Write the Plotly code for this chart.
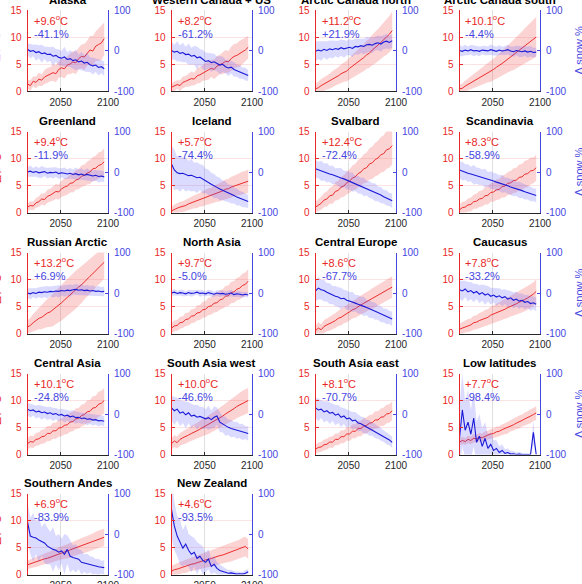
import plotly.graph_objects as go

W, H = 582, 584

years = list(range(2015, 2097, 3))  # 28 sample years

regions = ["Alaska", "Western Canada + US", "Arctic Canada north", "Arctic Canada south",
           "Greenland", "Iceland", "Svalbard", "Scandinavia",
           "Russian Arctic", "North Asia", "Central Europe", "Caucasus",
           "Central Asia", "South Asia west", "South Asia east", "Low latitudes",
           "Southern Andes", "New Zealand"]

temp_labels = ["+9.6", "+8.2", "+11.2", "+10.1", "+9.4", "+5.7", "+12.4", "+8.3",
               "+13.2", "+9.7", "+8.6", "+7.8", "+10.1", "+10.0", "+8.1", "+7.7",
               "+6.9", "+4.6"]
snow_labels = ["-41.1%", "-61.2%", "+21.9%", "-4.4%", "-11.9%", "-74.4%", "-72.4%", "-58.9%",
               "+6.9%", "-5.0%", "-67.7%", "-33.2%", "-24.8%", "-46.6%", "-70.7%", "-98.4%",
               "-83.9%", "-93.5%"]

# temperature change (deg C), one row per region
temp_mean = [
    [1.3,1.0,1.8,1.6,2.2,2.0,2.6,2.9,3.1,3.4,3.2,4.0,4.3,4.1,4.8,5.0,5.4,5.2,6.0,6.4,6.3,7.0,7.6,7.4,8.3,8.6,8.9,9.7],
    [0.7,0.9,1.2,1.0,1.6,1.8,2.0,2.3,2.2,2.8,3.0,3.3,3.6,3.8,4.2,4.0,4.6,4.9,5.1,5.5,5.4,6.0,6.4,6.6,6.9,7.3,7.6,8.1],
    [0.4,0.6,1.0,1.3,1.6,1.8,2.2,2.5,2.8,3.2,3.5,3.7,4.2,4.6,4.9,5.4,5.8,6.2,6.7,7.0,7.6,8.0,8.5,9.0,9.6,10.0,10.5,11.2],
    [0.4,0.5,0.9,1.2,1.5,1.8,2.1,2.5,2.8,3.1,3.4,3.6,4.0,4.4,4.7,5.1,5.5,5.9,6.3,6.7,7.1,7.5,7.9,8.3,8.8,9.2,9.6,10.0],
    [1.0,1.3,1.2,1.8,2.0,2.5,2.4,3.0,3.2,3.5,3.9,3.8,4.4,4.7,4.9,5.4,5.5,6.0,6.2,6.7,6.9,7.3,7.5,8.1,8.2,8.7,8.9,9.4],
    [0.3,0.6,0.8,1.0,1.1,1.3,1.6,1.8,2.0,2.1,2.4,2.5,2.8,3.0,3.1,3.4,3.6,3.8,4.0,4.3,4.4,4.7,4.9,5.1,5.3,5.5,5.6,5.8],
    [1.0,1.4,1.7,2.3,2.5,3.1,3.2,3.9,4.1,4.7,4.9,5.5,5.8,6.4,6.6,7.2,7.5,8.1,8.3,9.0,9.2,9.8,10.1,10.7,10.9,11.6,11.8,12.4],
    [0.5,0.9,1.0,1.4,1.5,2.0,2.1,2.5,2.6,3.1,3.2,3.7,3.8,4.2,4.3,4.8,4.9,5.4,5.5,5.9,6.0,6.5,6.6,7.1,7.2,7.7,7.8,8.3],
    [1.2,1.5,2.0,2.4,2.8,3.0,3.4,3.8,4.0,4.4,4.8,5.3,5.7,6.2,6.7,7.2,7.6,8.1,8.6,9.0,9.6,10.1,10.6,11.1,11.6,12.1,12.6,13.2],
    [1.0,1.4,1.5,2.0,2.1,2.6,2.7,3.2,3.3,3.8,3.9,4.4,4.5,5.0,5.1,5.6,5.7,6.2,6.4,6.9,7.0,7.6,7.7,8.2,8.4,8.9,9.1,9.7],
    [0.5,1.0,0.7,1.3,1.6,1.8,2.1,2.4,2.8,3.0,3.4,3.7,4.0,4.4,4.6,5.0,5.3,5.6,5.9,6.2,6.5,6.8,7.1,7.4,7.7,8.0,8.3,8.6],
    [0.8,1.0,1.3,1.5,1.6,2.0,2.1,2.4,2.6,2.9,3.0,3.4,3.6,3.8,4.1,4.3,4.5,4.8,5.0,5.3,5.5,5.8,6.0,6.3,6.6,6.9,7.3,7.8],
    [2.0,2.4,2.3,2.8,2.9,3.3,3.4,3.9,3.9,4.4,4.4,4.9,5.0,5.4,5.5,6.0,6.1,6.6,6.7,7.2,7.4,7.9,8.0,8.6,8.7,9.3,9.5,10.0],
    [2.0,2.5,2.2,2.8,3.1,3.3,3.6,3.9,4.1,4.4,4.7,5.0,5.2,5.5,5.8,6.1,6.5,6.8,7.1,7.5,7.8,8.2,8.5,8.9,9.2,9.5,9.8,10.0],
    [1.0,1.3,1.4,1.8,1.9,2.3,2.3,2.8,2.8,3.3,3.3,3.8,3.8,4.3,4.3,4.8,4.8,5.3,5.4,5.8,5.9,6.4,6.4,6.9,7.0,7.5,7.6,8.1],
    [2.3,2.6,2.4,2.8,2.6,3.0,2.9,3.2,3.1,3.4,3.6,3.8,3.9,4.2,4.3,4.6,4.8,5.0,5.3,5.5,5.8,6.0,6.3,6.6,6.8,7.1,7.4,7.7],
    [1.8,2.0,2.2,2.3,2.5,2.7,2.9,3.0,3.2,3.4,3.6,3.8,4.0,4.1,4.3,4.5,4.7,4.9,5.1,5.3,5.5,5.7,5.9,6.1,6.3,6.5,6.7,6.9],
    [0.6,0.9,1.0,1.2,1.4,1.5,1.7,1.9,2.0,2.2,2.3,2.5,2.7,2.8,3.0,3.1,3.3,3.5,3.6,3.8,4.0,4.1,4.3,4.5,4.7,5.0,5.2,4.7],
]

# temperature ensemble half-spread (deg C)
temp_spread = [
    [0.8,1.0,0.9,1.1,1.2,1.1,1.3,1.4,1.3,1.5,1.6,1.5,1.7,1.8,1.7,1.9,2.0,2.1,2.0,2.2,2.4,2.3,2.6,2.8,2.7,3.0,3.2,3.0],
    [0.7,0.9,0.8,1.0,1.1,1.0,1.2,1.3,1.2,1.4,1.5,1.4,1.6,1.7,1.6,1.8,1.9,1.8,2.0,2.1,2.0,2.2,2.3,2.2,2.4,2.3,2.2,2.1],
    [1.0,1.1,1.2,1.2,1.3,1.4,1.5,1.5,1.6,1.7,1.8,1.9,2.0,2.1,2.2,2.3,2.4,2.5,2.6,2.7,2.8,2.9,3.0,3.1,3.2,3.3,3.4,3.5],
    [0.8,0.9,1.0,1.1,1.2,1.3,1.4,1.5,1.6,1.7,1.8,1.9,2.0,2.1,2.2,2.3,2.4,2.5,2.6,2.8,2.9,3.0,3.1,3.3,3.4,3.5,3.6,3.7],
    [0.7,0.8,0.8,0.9,1.0,1.0,1.1,1.2,1.2,1.3,1.4,1.4,1.5,1.6,1.6,1.7,1.8,1.8,1.9,2.0,2.0,2.1,2.2,2.2,2.3,2.4,2.4,2.5],
    [0.8,0.9,0.9,1.0,1.0,1.1,1.1,1.2,1.2,1.3,1.3,1.4,1.4,1.5,1.5,1.6,1.6,1.7,1.7,1.8,1.8,1.9,1.9,2.0,2.0,2.1,2.1,2.2],
    [1.0,1.1,1.2,1.3,1.4,1.5,1.6,1.7,1.8,1.9,2.0,2.1,2.2,2.3,2.4,2.5,2.6,2.7,2.8,2.9,3.0,3.1,3.2,3.3,3.4,3.5,3.5,3.5],
    [1.0,1.1,1.1,1.2,1.3,1.3,1.4,1.5,1.5,1.6,1.7,1.7,1.8,1.9,1.9,2.0,2.1,2.1,2.2,2.3,2.3,2.4,2.4,2.5,2.5,2.5,2.4,2.4],
    [1.2,1.4,1.6,1.8,2.0,2.2,2.4,2.6,2.8,3.0,3.1,3.2,3.3,3.4,3.4,3.5,3.5,3.5,3.4,3.4,3.3,3.3,3.2,3.2,3.1,3.0,3.0,3.0],
    [0.9,1.0,1.0,1.1,1.1,1.2,1.2,1.3,1.3,1.4,1.4,1.5,1.5,1.6,1.6,1.7,1.7,1.8,1.8,1.9,1.9,2.0,2.0,2.1,2.1,2.2,2.2,2.2],
    [1.0,1.1,1.0,1.2,1.2,1.3,1.3,1.4,1.4,1.5,1.5,1.6,1.6,1.6,1.7,1.7,1.7,1.8,1.8,1.8,1.9,1.9,1.9,2.0,2.0,2.0,2.0,2.0],
    [1.0,1.1,1.1,1.2,1.2,1.3,1.3,1.4,1.4,1.5,1.5,1.6,1.6,1.7,1.7,1.8,1.8,1.9,1.9,2.0,2.0,2.1,2.1,2.2,2.2,2.2,2.2,2.2],
    [1.0,1.1,1.1,1.2,1.2,1.3,1.3,1.4,1.4,1.5,1.5,1.6,1.6,1.7,1.7,1.8,1.8,1.9,1.9,2.0,2.0,2.1,2.1,2.2,2.2,2.3,2.3,2.3],
    [1.0,1.1,1.1,1.2,1.2,1.3,1.3,1.4,1.4,1.5,1.5,1.6,1.6,1.7,1.7,1.8,1.8,1.9,1.9,2.0,2.0,2.1,2.1,2.2,2.2,2.3,2.3,2.3],
    [0.8,0.9,0.9,1.0,1.0,1.0,1.1,1.1,1.1,1.2,1.2,1.2,1.3,1.3,1.3,1.4,1.4,1.4,1.5,1.5,1.5,1.6,1.6,1.6,1.7,1.7,1.7,1.7],
    [0.6,0.7,0.6,0.7,0.7,0.8,0.7,0.8,0.8,0.9,0.8,0.9,0.9,1.0,0.9,1.0,1.0,1.1,1.0,1.1,1.1,1.2,1.1,1.2,1.2,1.3,1.2,1.3],
    [0.8,0.8,0.9,0.9,0.9,1.0,1.0,1.0,1.1,1.1,1.1,1.2,1.2,1.2,1.3,1.3,1.3,1.4,1.4,1.4,1.5,1.5,1.5,1.5,1.6,1.6,1.6,1.6],
    [1.0,1.0,1.1,1.1,1.1,1.2,1.2,1.2,1.3,1.3,1.3,1.4,1.4,1.4,1.5,1.5,1.5,1.6,1.6,1.6,1.7,1.7,1.7,1.8,1.8,1.8,1.8,1.8],
]

# snow change (%), one row per region
snow_mean = [
    [3,-2,0,-5,-3,-8,-6,-10,-9,-14,-12,-17,-19,-16,-22,-20,-25,-23,-28,-26,-31,-29,-35,-38,-36,-42,-40,-45],
    [0,-4,-2,-7,-5,-10,-9,-14,-12,-18,-16,-22,-27,-25,-30,-28,-33,-36,-34,-40,-43,-41,-47,-50,-53,-56,-58,-62],
    [-2,1,-1,3,0,4,2,5,3,7,4,6,8,5,10,9,12,10,14,15,13,17,19,16,21,23,20,24],
    [0,-2,1,-1,2,-1,0,-2,1,0,-1,2,0,-2,1,-1,0,2,-1,-3,0,-2,-3,-1,-4,-2,-5,-4],
    [0,2,-1,1,-2,0,1,-3,-1,-2,0,-4,-2,-3,-5,-3,-6,-4,-7,-5,-8,-6,-9,-10,-8,-11,-10,-12],
    [20,5,-2,-4,-3,-6,-9,-8,-12,-14,-13,-18,-22,-26,-30,-35,-38,-42,-45,-48,-52,-55,-58,-62,-65,-68,-70,-73],
    [8,5,3,0,-2,-5,-7,-10,-12,-15,-17,-20,-22,-25,-28,-31,-34,-37,-40,-43,-47,-50,-54,-57,-61,-64,-68,-71],
    [5,2,0,-3,-5,-7,-9,-11,-13,-15,-18,-20,-22,-25,-27,-29,-32,-34,-37,-39,-42,-44,-46,-49,-51,-54,-56,-58],
    [0,-2,1,-1,2,1,3,2,4,3,5,4,6,5,7,6,8,9,7,8,6,7,5,6,4,5,3,4],
    [0,2,-1,1,0,-2,1,-1,0,2,-1,0,-2,1,-1,-3,0,-2,-1,-3,-2,0,-4,-2,-3,-5,-3,-5],
    [5,12,8,6,2,-2,-5,-8,-10,-14,-13,-18,-20,-22,-25,-28,-30,-33,-36,-40,-42,-45,-48,-52,-55,-58,-60,-64],
    [8,5,10,3,6,0,4,-3,1,-5,-2,-8,-5,-10,-7,-12,-9,-15,-12,-18,-15,-20,-18,-23,-21,-26,-24,-28],
    [12,8,10,5,7,3,5,1,3,-1,1,-3,-1,-5,-3,-7,-5,-9,-8,-11,-10,-13,-12,-15,-14,-17,-16,-18],
    [15,8,12,2,5,-2,3,-5,-3,-8,-6,-10,-12,-9,-14,-8,-5,-20,-25,-30,-33,-36,-38,-40,-42,-44,-46,-48],
    [15,10,12,5,8,2,4,-3,0,-8,-5,-12,-10,-17,-15,-22,-24,-28,-31,-35,-38,-42,-46,-50,-55,-60,-64,-70],
    [-60,10,-40,-20,-50,-10,-70,-55,-80,-60,-85,-75,-90,-85,-95,-90,-97,-95,-99,-98,-100,-99,-100,-100,-100,-100,-45,-100],
    [30,-5,-8,-10,-15,-18,-22,-30,-35,-38,-40,-45,-42,-50,-38,-55,-58,-60,-62,-70,-72,-74,-75,-78,-80,-81,-82,-83],
    [60,20,-5,-20,-35,-25,-40,-50,-45,-60,-55,-65,-70,-62,-80,-75,-85,-90,-92,-95,-97,-96,-98,-99,-98,-99,-97,-93],
]

# snow ensemble half-spread (%)
snow_spread = [
    [15,18,14,20,16,22,15,19,17,24,16,20,18,25,17,21,19,26,18,22,20,24,18,21,17,20,16,18],
    [22,18,25,20,24,19,26,21,23,28,20,24,22,19,23,20,18,22,19,17,20,16,18,15,17,14,16,13],
    [25,22,24,20,23,21,22,19,21,20,22,18,20,21,19,20,18,19,20,18,19,17,18,19,17,18,16,17],
    [14,12,13,11,12,13,11,12,10,12,11,13,12,11,12,10,11,12,11,13,12,14,13,12,14,13,12,11],
    [12,14,11,13,12,15,11,13,12,14,12,13,11,14,12,13,12,15,13,14,12,15,13,14,13,15,14,13],
    [45,50,40,45,38,42,36,40,35,38,32,35,30,32,28,30,26,28,24,25,22,23,20,21,18,19,17,16],
    [22,20,25,21,24,20,23,19,22,25,20,23,21,24,19,22,20,23,18,21,19,22,18,20,17,19,16,18],
    [20,23,19,22,18,24,20,21,19,23,18,22,20,21,19,22,18,20,19,21,17,20,18,19,17,18,16,17],
    [12,14,11,13,12,14,13,15,12,14,13,15,12,14,13,15,12,14,13,14,12,13,12,13,11,12,11,12],
    [7,8,6,7,8,6,7,8,7,6,8,7,6,7,8,6,7,8,7,6,7,8,6,7,8,7,6,7],
    [25,28,24,27,23,26,22,25,24,27,21,24,22,25,20,23,21,24,19,22,20,21,18,20,17,19,16,18],
    [22,25,20,24,21,23,19,22,20,24,19,21,18,22,19,20,18,21,17,20,18,19,17,18,16,18,16,17],
    [15,17,14,16,15,17,14,16,15,16,14,15,14,16,13,15,14,15,13,14,13,15,13,14,12,14,12,13],
    [30,35,28,32,27,33,26,30,25,31,24,28,23,30,22,27,21,25,20,24,19,22,18,21,17,20,16,18],
    [25,28,22,26,24,27,21,25,22,24,20,23,19,22,20,21,18,20,17,19,16,18,15,16,14,15,13,14],
    [80,90,70,80,60,70,50,55,45,40,35,30,25,20,15,15,10,10,8,6,5,5,4,4,4,3,30,3],
    [50,45,60,40,55,35,50,45,40,55,35,45,30,50,35,40,30,35,25,30,22,25,20,22,18,20,16,18],
    [70,60,50,55,45,50,40,45,35,40,30,35,25,25,20,20,15,15,10,10,8,8,6,6,5,5,8,6],
]

temp_ticks = [0, 5, 10, 15]
snow_ticks = [-100, 0, 100]
snow_tick_text = ["-100", "0", "100"]
year_ticks = [2050, 2100]

RED_AX = "rgb(232,40,40)"
RED_LN = "rgb(235,45,45)"
RED_BAND = "rgba(245,80,80,0.25)"
BLUE_AX = "rgb(70,70,225)"
BLUE_LN = "rgb(25,25,215)"
BLUE_BAND = "rgba(90,90,255,0.22)"
DARK = "rgb(38,38,38)"
FONT = "Liberation Sans, Arial, sans-serif"

col_left = [27.5, 171.5, 315.5, 459.5]
panel_w = 80.5
row_top = [10.0, 131.5, 252.5, 373.5, 493.5]
panel_h = 81.0

fig = go.Figure()
layout = dict(width=W, height=H, margin=dict(l=0, r=0, t=0, b=0, pad=0, autoexpand=False),
              paper_bgcolor="white", plot_bgcolor="white", showlegend=False,
              font=dict(family=FONT, size=10, color=DARK))
annotations = []

for k, name in enumerate(regions):
    r, c = divmod(k, 4)
    x0 = col_left[c]
    top = row_top[r]
    xi = k + 1
    yl = 2 * k + 1
    yr = 2 * k + 2
    xname = "xaxis" if xi == 1 else f"xaxis{xi}"
    ylname = "yaxis" if yl == 1 else f"yaxis{yl}"
    yrname = f"yaxis{yr}"
    xref = "x" if xi == 1 else f"x{xi}"
    ylref = "y" if yl == 1 else f"y{yl}"
    yrref = f"y{yr}"

    tm = temp_mean[k]
    ts = temp_spread[k]
    sm = snow_mean[k]
    ss = snow_spread[k]
    n = min(len(years), len(tm), len(ts), len(sm), len(ss))
    yrs = years[:n]

    band_x = yrs + yrs[::-1]
    fig.add_trace(go.Scatter(x=band_x,
                             y=[tm[i] + ts[i] for i in range(n)] + [tm[i] - ts[i] for i in range(n)][::-1],
                             fill="toself", fillcolor=RED_BAND, line=dict(width=0),
                             mode="lines", hoverinfo="skip", xaxis=xref, yaxis=ylref))
    fig.add_trace(go.Scatter(x=yrs, y=tm[:n], mode="lines", line=dict(color=RED_LN, width=1),
                             xaxis=xref, yaxis=ylref))
    fig.add_trace(go.Scatter(x=band_x,
                             y=[sm[i] + ss[i] for i in range(n)] + [sm[i] - ss[i] for i in range(n)][::-1],
                             fill="toself", fillcolor=BLUE_BAND, line=dict(width=0),
                             mode="lines", hoverinfo="skip", xaxis=xref, yaxis=yrref))
    fig.add_trace(go.Scatter(x=yrs, y=sm[:n], mode="lines", line=dict(color=BLUE_LN, width=1.1),
                             xaxis=xref, yaxis=yrref))

    xd = [x0 / W, (x0 + panel_w) / W]
    yd = [1 - (top + panel_h) / H, 1 - top / H]

    layout[xname] = dict(domain=xd, anchor=ylref, range=[2015, 2100], tickvals=year_ticks,
                         ticks="inside", ticklen=3, tickcolor=DARK, showline=True, linecolor=DARK,
                         linewidth=0.8, showgrid=True, gridcolor="rgba(0,0,0,0.12)", gridwidth=0.8,
                         zeroline=False, tickfont=dict(size=10, color=DARK, family=FONT),
                         ticklabelstandoff=2, fixedrange=True, automargin=False)
    layout[ylname] = dict(domain=yd, anchor=xref, range=[0, 15], tickvals=temp_ticks,
                          ticks="inside", ticklen=3, tickcolor=RED_AX, showline=True, linecolor=RED_AX,
                          linewidth=1, showgrid=True, gridcolor="rgba(232,40,40,0.13)", gridwidth=0.8,
                          zeroline=False, tickfont=dict(size=10, color=RED_AX, family=FONT),
                          ticklabelstandoff=3, fixedrange=True, automargin=False)
    layout[yrname] = dict(overlaying=ylref, anchor=xref, side="right", range=[-100, 100],
                          tickvals=snow_ticks, ticktext=snow_tick_text,
                          ticks="inside", ticklen=3, tickcolor=BLUE_AX, showline=True, linecolor=BLUE_AX,
                          linewidth=1, showgrid=False, zeroline=False,
                          tickfont=dict(size=10, color=BLUE_AX, family=FONT),
                          ticklabelstandoff=3, fixedrange=True, automargin=False)

    # panel title
    annotations.append(dict(text=name, xref="paper", yref="paper",
                            x=(x0 + panel_w / 2) / W, y=1 - (top - 10.5) / H,
                            xanchor="center", yanchor="middle", showarrow=False,
                            font=dict(family=FONT, size=11.5, color="black", weight="bold")))
    # change labels
    annotations.append(dict(text=f"{temp_labels[k]}<sup>o</sup>C", xref="paper", yref="paper",
                            x=(x0 + 4) / W, y=1 - (top + 9.5) / H,
                            xanchor="left", yanchor="middle", showarrow=False,
                            font=dict(family=FONT, size=11, color=RED_AX)))
    annotations.append(dict(text=snow_labels[k], xref="paper", yref="paper",
                            x=(x0 + 4) / W, y=1 - (top + 23.5) / H,
                            xanchor="left", yanchor="middle", showarrow=False,
                            font=dict(family=FONT, size=11, color=BLUE_AX)))
    # clipped side axis titles
    if c == 0:
        annotations.append(dict(text="ΔT °C", xref="paper", yref="paper",
                                x=-3.5 / W, y=1 - (top + panel_h / 2 - 4) / H,
                                xanchor="center", yanchor="middle", textangle=-90, showarrow=False,
                                font=dict(family=FONT, size=11, color=RED_AX)))
    if c == 3:
        annotations.append(dict(text="Δ snow %", xref="paper", yref="paper",
                                x=579 / W, y=1 - (top + panel_h / 2) / H,
                                xanchor="center", yanchor="middle", textangle=-90, showarrow=False,
                                font=dict(family=FONT, size=11, color=BLUE_AX)))

layout["annotations"] = annotations
fig.update_layout(**layout)
fig.write_html("out.html", config={"displayModeBar": False},
               post_script="document.body.style.margin='0';document.body.style.overflow='hidden';")
